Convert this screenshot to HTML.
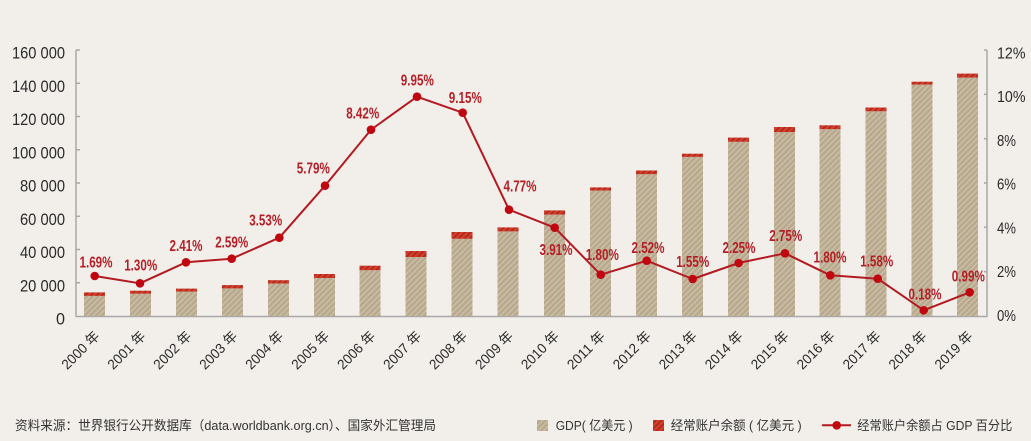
<!DOCTYPE html>
<html><head><meta charset="utf-8"><style>
html,body{margin:0;padding:0;background:#f2efea;}
svg{display:block;}
.ax{font-family:"Liberation Sans","Noto Sans CJK SC",sans-serif;fill:#2a2a2a;}
.dl{font-family:"Liberation Sans Narrow","Liberation Sans",sans-serif;fill:#b41f27;font-size:15.5px;font-weight:bold;}
.cj{font-family:"Liberation Sans","Noto Sans CJK SC",sans-serif;fill:#333;font-size:13px;}
</style></head><body>
<svg width="1031" height="441" viewBox="0 0 1031 441" xmlns="http://www.w3.org/2000/svg">
<defs>
<pattern id="tan" patternUnits="userSpaceOnUse" width="4" height="4" patternTransform="rotate(45)">
<rect width="4" height="4" fill="#b8a88c"/><line x1="1" y1="0" x2="1" y2="4" stroke="#cdc1ab" stroke-width="1.4"/>
</pattern>
<pattern id="red" patternUnits="userSpaceOnUse" width="4" height="4" patternTransform="rotate(45)">
<rect width="4" height="4" fill="#d23e2c"/><line x1="1" y1="0" x2="1" y2="4" stroke="#aa2419" stroke-width="1.4"/>
</pattern>
</defs>
<rect width="1031" height="441" fill="#f2efea"/>

<g stroke="#a8a8a8" stroke-width="1.5" fill="none">
<line x1="76" y1="50" x2="76" y2="316.5"/>
<line x1="75.5" y1="316.5" x2="987.5" y2="316.5"/>
<line x1="987" y1="50" x2="987" y2="316.5"/>
<line x1="76" y1="50" x2="80" y2="50"/><line x1="76" y1="83.25" x2="80" y2="83.25"/><line x1="76" y1="116.5" x2="80" y2="116.5"/><line x1="76" y1="149.75" x2="80" y2="149.75"/><line x1="76" y1="183" x2="80" y2="183"/><line x1="76" y1="216.25" x2="80" y2="216.25"/><line x1="76" y1="249.5" x2="80" y2="249.5"/><line x1="76" y1="282.75" x2="80" y2="282.75"/>
<line x1="984" y1="50" x2="987" y2="50"/><line x1="984" y1="94.3" x2="987" y2="94.3"/><line x1="984" y1="138.7" x2="987" y2="138.7"/><line x1="984" y1="183" x2="987" y2="183"/><line x1="984" y1="227.3" x2="987" y2="227.3"/><line x1="984" y1="271.7" x2="987" y2="271.7"/>
</g>

<g class="ax" font-size="17" text-anchor="end">
<text x="65" y="58.6" textLength="53" lengthAdjust="spacingAndGlyphs">160 000</text>
<text x="65" y="91.8" textLength="53" lengthAdjust="spacingAndGlyphs">140 000</text>
<text x="65" y="125.1" textLength="53" lengthAdjust="spacingAndGlyphs">120 000</text>
<text x="65" y="158.3" textLength="53" lengthAdjust="spacingAndGlyphs">100 000</text>
<text x="65" y="191.6" textLength="45" lengthAdjust="spacingAndGlyphs">80 000</text>
<text x="65" y="224.8" textLength="45" lengthAdjust="spacingAndGlyphs">60 000</text>
<text x="65" y="258.1" textLength="45" lengthAdjust="spacingAndGlyphs">40 000</text>
<text x="65" y="291.3" textLength="45" lengthAdjust="spacingAndGlyphs">20 000</text>
<text x="65" y="324.6" textLength="9" lengthAdjust="spacingAndGlyphs">0</text>
</g>
<g class="ax" font-size="16">
<text x="997" y="58.3" textLength="28.5" lengthAdjust="spacingAndGlyphs">12%</text>
<text x="997" y="102.1" textLength="28.5" lengthAdjust="spacingAndGlyphs">10%</text>
<text x="997" y="145.8" textLength="19" lengthAdjust="spacingAndGlyphs">8%</text>
<text x="997" y="189.6" textLength="19" lengthAdjust="spacingAndGlyphs">6%</text>
<text x="997" y="233.3" textLength="19" lengthAdjust="spacingAndGlyphs">4%</text>
<text x="997" y="277.1" textLength="19" lengthAdjust="spacingAndGlyphs">2%</text>
<text x="997" y="320.8" textLength="19" lengthAdjust="spacingAndGlyphs">0%</text>
</g>

<g>
<rect x="84" y="295.9" width="21" height="20.1" fill="url(#tan)"/><rect x="84" y="292.4" width="21" height="3.5" fill="url(#red)"/>
<rect x="130" y="293.7" width="21" height="22.3" fill="url(#tan)"/><rect x="130" y="290.7" width="21" height="3" fill="url(#red)"/>
<rect x="176" y="291.6" width="21" height="24.4" fill="url(#tan)"/><rect x="176" y="288.6" width="21" height="3" fill="url(#red)"/>
<rect x="222" y="288.4" width="21" height="27.6" fill="url(#tan)"/><rect x="222" y="285.1" width="21" height="3.3" fill="url(#red)"/>
<rect x="268" y="283.5" width="21" height="32.5" fill="url(#tan)"/><rect x="268" y="280.2" width="21" height="3.3" fill="url(#red)"/>
<rect x="314" y="278" width="21" height="38" fill="url(#tan)"/><rect x="314" y="274" width="21" height="4" fill="url(#red)"/>
<rect x="359.5" y="270.2" width="21" height="45.8" fill="url(#tan)"/><rect x="359.5" y="265.7" width="21" height="4.5" fill="url(#red)"/>
<rect x="405.5" y="257" width="21" height="59" fill="url(#tan)"/><rect x="405.5" y="251" width="21" height="6" fill="url(#red)"/>
<rect x="451.5" y="238.8" width="21" height="77.2" fill="url(#tan)"/><rect x="451.5" y="232" width="21" height="6.8" fill="url(#red)"/>
<rect x="497.5" y="231.4" width="21" height="84.6" fill="url(#tan)"/><rect x="497.5" y="227.4" width="21" height="4" fill="url(#red)"/>
<rect x="544" y="214.6" width="21" height="101.4" fill="url(#tan)"/><rect x="544" y="210.4" width="21" height="4.2" fill="url(#red)"/>
<rect x="590" y="190.5" width="21" height="125.5" fill="url(#tan)"/><rect x="590" y="187.4" width="21" height="3.1" fill="url(#red)"/>
<rect x="636" y="174.2" width="21" height="141.8" fill="url(#tan)"/><rect x="636" y="170.5" width="21" height="3.7" fill="url(#red)"/>
<rect x="682" y="156.9" width="21" height="159.1" fill="url(#tan)"/><rect x="682" y="153.7" width="21" height="3.2" fill="url(#red)"/>
<rect x="728" y="141.8" width="21" height="174.2" fill="url(#tan)"/><rect x="728" y="137.6" width="21" height="4.2" fill="url(#red)"/>
<rect x="774" y="132.1" width="21" height="183.9" fill="url(#tan)"/><rect x="774" y="127" width="21" height="5.1" fill="url(#red)"/>
<rect x="819.5" y="129.2" width="21" height="186.8" fill="url(#tan)"/><rect x="819.5" y="125.3" width="21" height="3.9" fill="url(#red)"/>
<rect x="865.5" y="111.3" width="21" height="204.7" fill="url(#tan)"/><rect x="865.5" y="107.5" width="21" height="3.8" fill="url(#red)"/>
<rect x="911.5" y="84.6" width="21" height="231.4" fill="url(#tan)"/><rect x="911.5" y="81.7" width="21" height="2.9" fill="url(#red)"/>
<rect x="957" y="77.6" width="21" height="238.4" fill="url(#tan)"/><rect x="957" y="73.6" width="21" height="4" fill="url(#red)"/>
</g>

<polyline fill="none" stroke="#b31a22" stroke-width="2" stroke-linejoin="round" points="94.7,276 140,283.3 186,262.3 231.7,258.7 279.3,237.7 325,185.7 371,129.7 417,96.7 462.7,112.7 509,209.7 554.7,227.7 600.7,274.7 646.7,260.7 692.7,279 738.7,263 785,253.3 830.3,275.3 877.7,278.7 923.7,310.3 969.7,292.3"/>
<g fill="#c0070f">
<circle cx="94.7" cy="276" r="4.3"/><circle cx="140" cy="283.3" r="4.3"/><circle cx="186" cy="262.3" r="4.3"/><circle cx="231.7" cy="258.7" r="4.3"/><circle cx="279.3" cy="237.7" r="4.3"/><circle cx="325" cy="185.7" r="4.3"/><circle cx="371" cy="129.7" r="4.3"/><circle cx="417" cy="96.7" r="4.3"/><circle cx="462.7" cy="112.7" r="4.3"/><circle cx="509" cy="209.7" r="4.3"/><circle cx="554.7" cy="227.7" r="4.3"/><circle cx="600.7" cy="274.7" r="4.3"/><circle cx="646.7" cy="260.7" r="4.3"/><circle cx="692.7" cy="279" r="4.3"/><circle cx="738.7" cy="263" r="4.3"/><circle cx="785" cy="253.3" r="4.3"/><circle cx="830.3" cy="275.3" r="4.3"/><circle cx="877.7" cy="278.7" r="4.3"/><circle cx="923.7" cy="310.3" r="4.3"/><circle cx="969.7" cy="292.3" r="4.3"/>
</g>

<g class="dl" text-anchor="middle">
<text x="96" y="267.3" textLength="33" lengthAdjust="spacingAndGlyphs">1.69%</text>
<text x="140.7" y="270.6" textLength="33" lengthAdjust="spacingAndGlyphs">1.30%</text>
<text x="186" y="251.1" textLength="33" lengthAdjust="spacingAndGlyphs">2.41%</text>
<text x="231.7" y="247.6" textLength="33" lengthAdjust="spacingAndGlyphs">2.59%</text>
<text x="265.7" y="225.6" textLength="33" lengthAdjust="spacingAndGlyphs">3.53%</text>
<text x="313.3" y="173.3" textLength="33" lengthAdjust="spacingAndGlyphs">5.79%</text>
<text x="362.7" y="118.3" textLength="33" lengthAdjust="spacingAndGlyphs">8.42%</text>
<text x="417.3" y="85.6" textLength="33" lengthAdjust="spacingAndGlyphs">9.95%</text>
<text x="465.3" y="102.9" textLength="33" lengthAdjust="spacingAndGlyphs">9.15%</text>
<text x="520" y="191.3" textLength="33" lengthAdjust="spacingAndGlyphs">4.77%</text>
<text x="556" y="254.9" textLength="33" lengthAdjust="spacingAndGlyphs">3.91%</text>
<text x="602.3" y="259.9" textLength="33" lengthAdjust="spacingAndGlyphs">1.80%</text>
<text x="648" y="252.9" textLength="33" lengthAdjust="spacingAndGlyphs">2.52%</text>
<text x="692.7" y="266.9" textLength="33" lengthAdjust="spacingAndGlyphs">1.55%</text>
<text x="739" y="252.9" textLength="33" lengthAdjust="spacingAndGlyphs">2.25%</text>
<text x="785.7" y="240.9" textLength="33" lengthAdjust="spacingAndGlyphs">2.75%</text>
<text x="830" y="262.3" textLength="33" lengthAdjust="spacingAndGlyphs">1.80%</text>
<text x="876.7" y="266.3" textLength="33" lengthAdjust="spacingAndGlyphs">1.58%</text>
<text x="925" y="299.6" textLength="33" lengthAdjust="spacingAndGlyphs">0.18%</text>
<text x="968.3" y="281.3" textLength="33" lengthAdjust="spacingAndGlyphs">0.99%</text>
</g>

<g class="ax" font-size="14" text-anchor="end">
<text transform="translate(100.5,337) rotate(-45)" textLength="47" lengthAdjust="spacingAndGlyphs">2000 年</text>
<text transform="translate(146.5,337) rotate(-45)" textLength="47" lengthAdjust="spacingAndGlyphs">2001 年</text>
<text transform="translate(192.4,337) rotate(-45)" textLength="47" lengthAdjust="spacingAndGlyphs">2002 年</text>
<text transform="translate(238.4,337) rotate(-45)" textLength="47" lengthAdjust="spacingAndGlyphs">2003 年</text>
<text transform="translate(284.3,337) rotate(-45)" textLength="47" lengthAdjust="spacingAndGlyphs">2004 年</text>
<text transform="translate(330.3,337) rotate(-45)" textLength="47" lengthAdjust="spacingAndGlyphs">2005 年</text>
<text transform="translate(376.2,337) rotate(-45)" textLength="47" lengthAdjust="spacingAndGlyphs">2006 年</text>
<text transform="translate(422.2,337) rotate(-45)" textLength="47" lengthAdjust="spacingAndGlyphs">2007 年</text>
<text transform="translate(468.1,337) rotate(-45)" textLength="47" lengthAdjust="spacingAndGlyphs">2008 年</text>
<text transform="translate(514.1,337) rotate(-45)" textLength="47" lengthAdjust="spacingAndGlyphs">2009 年</text>
<text transform="translate(560,337) rotate(-45)" textLength="47" lengthAdjust="spacingAndGlyphs">2010 年</text>
<text transform="translate(606,337) rotate(-45)" textLength="47" lengthAdjust="spacingAndGlyphs">2011 年</text>
<text transform="translate(651.9,337) rotate(-45)" textLength="47" lengthAdjust="spacingAndGlyphs">2012 年</text>
<text transform="translate(697.9,337) rotate(-45)" textLength="47" lengthAdjust="spacingAndGlyphs">2013 年</text>
<text transform="translate(743.8,337) rotate(-45)" textLength="47" lengthAdjust="spacingAndGlyphs">2014 年</text>
<text transform="translate(789.8,337) rotate(-45)" textLength="47" lengthAdjust="spacingAndGlyphs">2015 年</text>
<text transform="translate(835.7,337) rotate(-45)" textLength="47" lengthAdjust="spacingAndGlyphs">2016 年</text>
<text transform="translate(881.7,337) rotate(-45)" textLength="47" lengthAdjust="spacingAndGlyphs">2017 年</text>
<text transform="translate(927.6,337) rotate(-45)" textLength="47" lengthAdjust="spacingAndGlyphs">2018 年</text>
<text transform="translate(973.6,337) rotate(-45)" textLength="47" lengthAdjust="spacingAndGlyphs">2019 年</text>
</g>

<text class="cj" x="15" y="430" textLength="421" lengthAdjust="spacingAndGlyphs">资料来源：世界银行公开数据库（data.worldbank.org.cn）、国家外汇管理局</text>

<rect x="537" y="420" width="11" height="11" fill="url(#tan)"/>
<text class="cj" x="555.7" y="430" textLength="77" lengthAdjust="spacingAndGlyphs">GDP( 亿美元 )</text>
<rect x="653" y="420" width="11" height="11" fill="url(#red)"/>
<text class="cj" x="670.7" y="430" textLength="131" lengthAdjust="spacingAndGlyphs">经常账户余额 ( 亿美元 )</text>
<line x1="822" y1="425.3" x2="851" y2="425.3" stroke="#b31a22" stroke-width="2"/>
<circle cx="836.7" cy="425.3" r="4.3" fill="#c0070f"/>
<text class="cj" x="857.3" y="430" textLength="155" lengthAdjust="spacingAndGlyphs">经常账户余额占 GDP 百分比</text>
</svg>
</body></html>
